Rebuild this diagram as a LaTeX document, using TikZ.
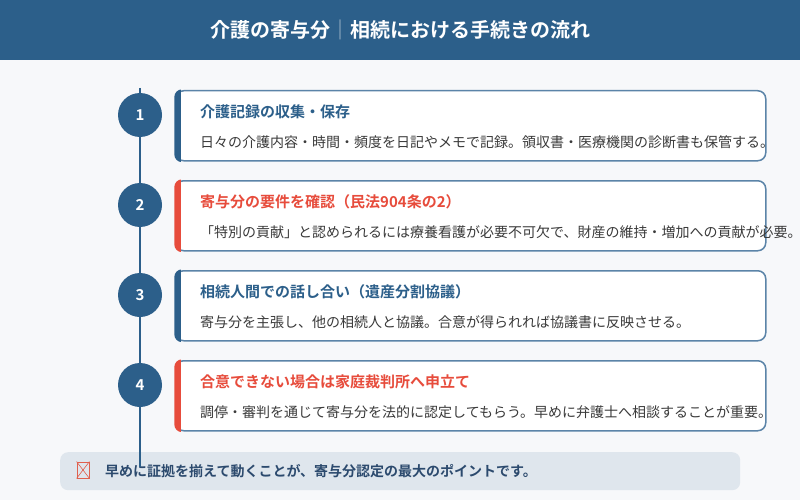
\documentclass[tikz,border=0pt]{standalone}
\usepackage{fontspec}
\setmainfont{Noto Sans CJK JP}[BoldFont={Noto Sans CJK JP Bold}]
\usepackage{xcolor}
\usetikzlibrary{positioning}

\definecolor{headblue}{HTML}{2C5F8A}
\definecolor{pagebg}{HTML}{F7F8FA}
\definecolor{cardline}{HTML}{5B84A8}
\definecolor{accentred}{HTML}{E74C3C}
\definecolor{desctext}{HTML}{3A3A3A}
\definecolor{notebg}{HTML}{DFE6ED}
\definecolor{notetext}{HTML}{2C4A6E}
\definecolor{iconred}{HTML}{E0604E}

\tikzset{
  stepdot/.style={circle, fill=headblue, minimum size=44pt, inner sep=0pt,
    text=white, font=\bfseries\fontsize{15}{18}\selectfont},
  card/.style={draw=cardline, line width=1.5pt, fill=white, rounded corners=8pt,
    minimum width=590pt, minimum height=70pt, inner sep=0pt, anchor=north west},
  cardtitle/.style={anchor=west, inner sep=0pt, font=\bfseries\fontsize{15}{18}\selectfont},
  carddesc/.style={anchor=west, inner sep=0pt, text=desctext, font=\fontsize{14}{17}\selectfont},
}

% coloured bar on the left edge of a card
\newcommand{\accentbar}[2]{%
  \begin{scope}
    \clip[rounded corners=8pt] ([shift={(-0.75pt,0.75pt)}]#1.north west) rectangle ([shift={(0.75pt,-0.75pt)}]#1.south east);
    \fill[#2] ([shift={(-0.75pt,0.75pt)}]#1.north west) rectangle ([shift={(6pt,-0.75pt)}]#1.south west);
  \end{scope}}

\begin{document}
\begin{tikzpicture}[x=1pt, y=-1pt]
  \useasboundingbox (0,0) rectangle (800,500);
  \fill[pagebg] (0,0) rectangle (800,500);

  % header
  \fill[headblue] (0,0) rectangle (800,60);
  \node[text=white, font=\bfseries\fontsize{20}{24}\selectfont] (title) at (400,30)
    {介護の寄与分\textcolor{white!55!headblue}{｜}相続における手続きの流れ};

  % note at the bottom
  \node[fill=notebg, rounded corners=8pt, minimum width=680pt, minimum height=38pt,
    inner sep=0pt, anchor=north west] (note) at (60,452) {};
  \node[draw=iconred, line width=0.8pt, minimum width=12pt, minimum height=16pt,
    inner sep=0pt] (icon) at (83,470) {};
  \draw[iconred, line width=0.6pt] (icon.north west) -- (icon.south east)
    (icon.north east) -- (icon.south west);
  \node[anchor=west, inner sep=0pt, text=notetext, font=\bfseries\fontsize{14}{17}\selectfont]
    (notetxt) at (105,471) {早めに証拠を揃えて動くことが、寄与分認定の最大のポイントです。};

  % timeline
  \coordinate (tltop) at (140,88);
  \coordinate (tlend) at (140,467);
  \draw[headblue, line width=2.5pt] (tltop) -- (tlend);

  \node[stepdot] (n1) at (140,115) {1};
  \node[stepdot] (n2) at (140,205) {2};
  \node[stepdot] (n3) at (140,295) {3};
  \node[stepdot] (n4) at (140,385) {4};

  % step 1
  \node[card] (c1) at (175,90) {};
  \accentbar{c1}{headblue}
  \node[cardtitle, text=headblue] (t1) at ([xshift=25pt, yshift=-22pt]c1.north west)
    {介護記録の収集・保存};
  \node[carddesc] (d1) at ([xshift=25pt, yshift=-52pt]c1.north west)
    {日々の介護内容・時間・頻度を日記やメモで記録。領収書・医療機関の診断書も保管する。};

  % step 2
  \node[card] (c2) at (175,180) {};
  \accentbar{c2}{accentred}
  \node[cardtitle, text=accentred] (t2) at ([xshift=25pt, yshift=-22pt]c2.north west)
    {寄与分の要件を確認（民法904条の2）};
  \node[carddesc] (d2) at ([xshift=25pt, yshift=-52pt]c2.north west)
    {「特別の貢献」と認められるには療養看護が必要不可欠で、財産の維持・増加への貢献が必要。};

  % step 3
  \node[card] (c3) at (175,270) {};
  \accentbar{c3}{headblue}
  \node[cardtitle, text=headblue] (t3) at ([xshift=25pt, yshift=-22pt]c3.north west)
    {相続人間での話し合い（遺産分割協議）};
  \node[carddesc] (d3) at ([xshift=25pt, yshift=-52pt]c3.north west)
    {寄与分を主張し、他の相続人と協議。合意が得られれば協議書に反映させる。};

  % step 4
  \node[card] (c4) at (175,360) {};
  \accentbar{c4}{accentred}
  \node[cardtitle, text=accentred] (t4) at ([xshift=25pt, yshift=-22pt]c4.north west)
    {合意できない場合は家庭裁判所へ申立て};
  \node[carddesc] (d4) at ([xshift=25pt, yshift=-52pt]c4.north west)
    {調停・審判を通じて寄与分を法的に認定してもらう。早めに弁護士へ相談することが重要。};
\end{tikzpicture}
\end{document}
